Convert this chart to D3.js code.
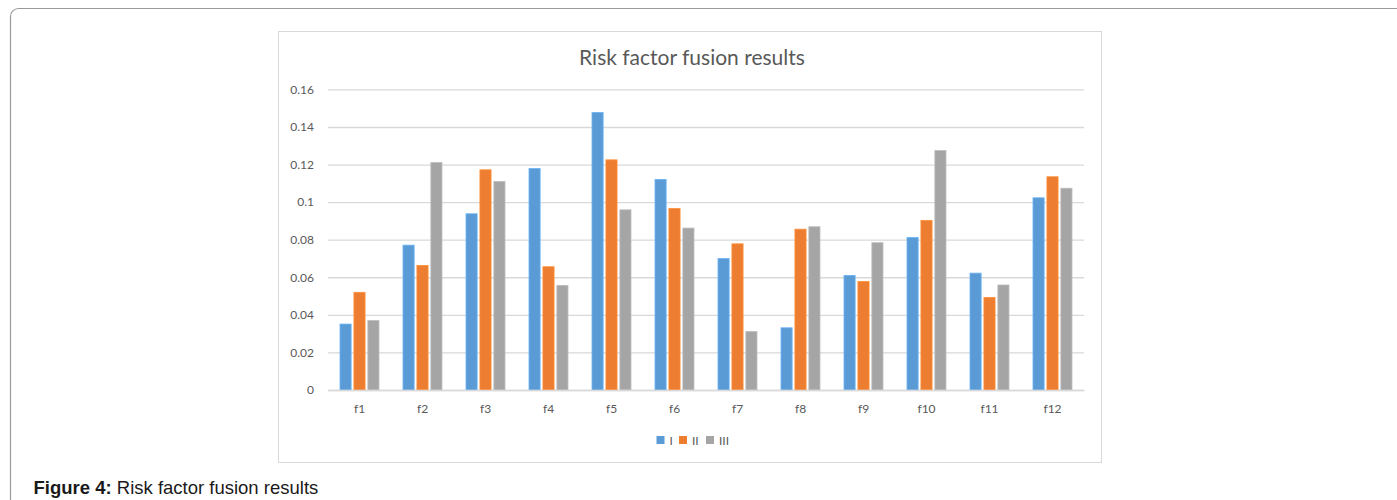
<!DOCTYPE html>
<html><head><meta charset="utf-8">
<script src="https://cdn.jsdelivr.net/npm/d3@7"></script>
<style>
html,body{margin:0;padding:0;background:#fff;overflow:hidden;}
svg{display:block;}
</style></head>
<body>
<svg id="c" width="1397" height="500"></svg>
<script>
const categories = ["f1","f2","f3","f4","f5","f6","f7","f8","f9","f10","f11","f12"];
const seriesNames = ["I","II","III"];
const seriesI   = [0.0351,0.0771,0.0938,0.1179,0.1477,0.1121,0.0700,0.0331,0.0610,0.0812,0.0622,0.1023];
const seriesII  = [0.0520,0.0663,0.1172,0.0656,0.1225,0.0966,0.0778,0.0856,0.0578,0.0903,0.0493,0.1135];
const seriesIII = [0.0370,0.1211,0.1110,0.0557,0.0959,0.0862,0.0312,0.0869,0.0784,0.1275,0.0559,0.1074];
const yTicks = [0,0.02,0.04,0.06,0.08,0.1,0.12,0.14,0.16];
const yTickLabels = ["0","0.02","0.04","0.06","0.08","0.1","0.12","0.14","0.16"];
const colors = ["#5b9bd5","#ed7d31","#a5a5a5"];
const title = "Risk factor fusion results";

const series = [seriesI, seriesII, seriesIII];
const svg = d3.select("#c");
const font = "Lato, 'Open Sans', sans-serif";

// outer frame
svg.append("rect").attr("x",10.5).attr("y",8.5).attr("width",1500).attr("height",600)
  .attr("rx",8).attr("fill","none").attr("stroke","#9a9a9a").attr("stroke-width",1.2);

// chart box
svg.append("rect").attr("x",278.5).attr("y",31.5).attr("width",823).attr("height",431)
  .attr("fill","#fff").attr("stroke","#d9d9d9");

const x0 = d3.scaleBand().domain(categories).range([328,1084]).paddingInner(0).paddingOuter(0);
const y = d3.scaleLinear().domain([0,0.16]).range([390,89.4]);
const x1 = d3.scaleBand().domain(seriesNames).range([-19.5,19.5]).paddingInner(0.2);

// grid
const yAxis = d3.axisLeft(y).tickValues(yTicks).tickFormat((d,i)=>yTickLabels[i]).tickSize(-(1084-328)).tickPadding(14);
const gy = svg.append("g").attr("transform","translate(328,0)").call(yAxis);
gy.select(".domain").remove();
gy.selectAll(".tick line").attr("stroke","#d9d9d9").attr("stroke-width",1.3);
gy.selectAll(".tick text").attr("fill","#595959").style("font-family",font).style("font-size","12px");

// bars
const g = svg.append("g");
categories.forEach((c,ci)=>{
  const cx = x0(c) + x0.bandwidth()/2;
  seriesNames.forEach((s,si)=>{
    const v = series[si][ci];
    g.append("rect")
      .attr("x", cx + x1(s))
      .attr("y", y(v))
      .attr("width", x1.bandwidth())
      .attr("height", y(0)-y(v))
      .attr("fill", colors[si])
      .attr("stroke", d3.color(colors[si]).brighter(0.4))
      .attr("stroke-width",0.8);
  });
});

// x axis labels
const xAxis = d3.axisBottom(x0).tickSize(0).tickPadding(14);
const gx = svg.append("g").attr("transform","translate(0,390)").call(xAxis);
gx.select(".domain").attr("stroke","#d9d9d9").attr("stroke-width",1.3);
gx.selectAll(".tick text").attr("fill","#595959").style("font-family",font).style("font-size","12px");

// title
svg.append("text").attr("x",692).attr("y",65).attr("text-anchor","middle")
  .attr("fill","#595959").style("font-family",font).style("font-size","21px").text(title);

// legend
const legendX = [656.5, 679, 706];
const lg = svg.append("g");
seriesNames.forEach((s,i)=>{
  lg.append("rect").attr("x",legendX[i]).attr("y",436).attr("width",8).attr("height",8).attr("fill",colors[i]);
  lg.append("text").attr("x",legendX[i]+13).attr("y",444.5).attr("fill","#595959")
    .style("font-family",font).style("font-size","12px").text(s);
});

// caption
const cap = svg.append("text").attr("x",33.5).attr("y",494).attr("fill","#1a1a1a")
  .style("font-family","'Liberation Sans', Arial, sans-serif").style("font-size","18.5px");
cap.append("tspan").attr("font-weight","bold").text("Figure 4:");
cap.append("tspan").text(" Risk factor fusion results");
</script>
</body></html>
